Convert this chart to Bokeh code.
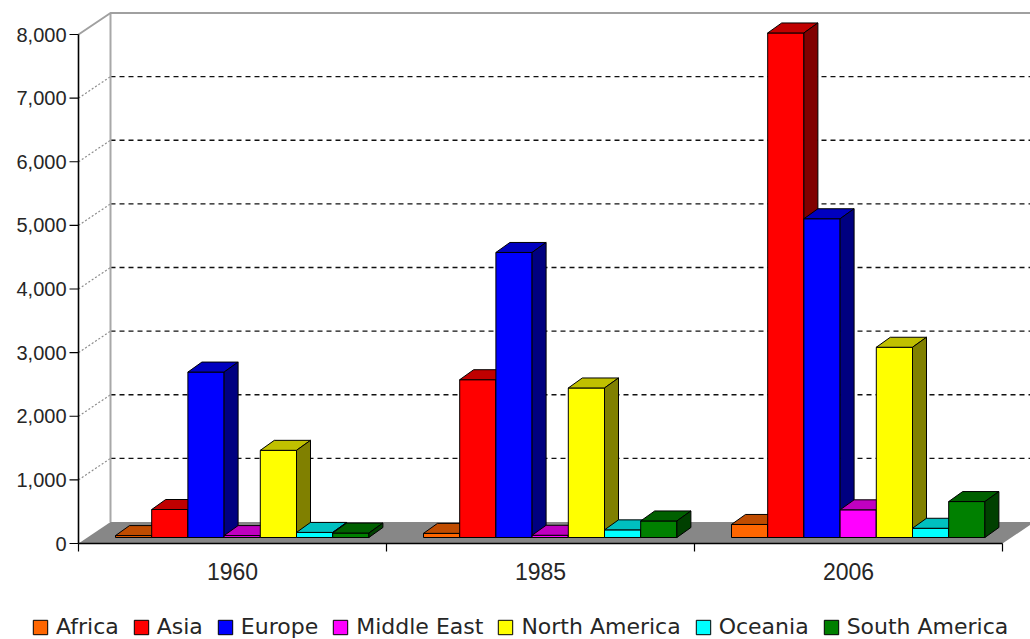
from bokeh.plotting import figure
from bokeh.models import Range1d, Legend, LegendItem
from bokeh.embed import file_html
from bokeh.resources import INLINE
from bokeh.core.properties import value

# ---------------- data ----------------
years = ["1960", "1985", "2006"]
series = ["Africa", "Asia", "Europe", "Middle East", "North America", "Oceania", "South America"]
africa = [30, 65, 205]
asia = [440, 2480, 7930]
europe = [2600, 4480, 5010]
middle_east = [30, 35, 435]
north_america = [1370, 2350, 2990]
oceania = [80, 120, 145]
south_america = [70, 260, 565]
y_ticks = [0, 1000, 2000, 3000, 4000, 5000, 6000, 7000, 8000]
y_tick_labels = [f"{t:,}" for t in y_ticks]

values = [africa, asia, europe, middle_east, north_america, oceania, south_america]
front_colors = ["#FF6600", "#FF0000", "#0000FF", "#FF00FF", "#FFFF00", "#00FFFF", "#008000"]
top_colors = ["#C04C00", "#C00000", "#0000C0", "#C000C0", "#C0C000", "#00C0C0", "#006000"]
side_colors = ["#803300", "#800000", "#000080", "#800080", "#808000", "#008080", "#004000"]

# ---------------- geometry (pixels) ----------------
W, H = 1030, 639
LEFT = 78          # y axis position
Y0 = 543           # pixel row of value 0
PX_PER_K = 63.625  # pixels per 1000 units
GROUP_PX = 308     # pixel width of one category

ux = 1.0 / GROUP_PX
uy = 1000.0 / PX_PER_K

WALL_DX, WALL_DY = 32 * ux, 21.5 * uy     # back wall offset
BAR_OFF_X, BAR_BASE = 37 * ux, 6 * uy     # first bar offset / bar base lift
BAR_W = 36.2 * ux
DEP_X, DEP_Y = 14 * ux, 10 * uy           # bar depth

xmin, xmax = -LEFT * ux, (W - LEFT) * ux
p = figure(width=W, height=H,
           x_range=Range1d(xmin, xmax), y_range=Range1d(-(H - Y0) * uy, Y0 * uy),
           output_backend="svg", toolbar_location=None,
           x_axis_location=None, y_axis_location=None,
           min_border_left=0, min_border_right=0, min_border_top=0, min_border_bottom=0)
p.outline_line_color = None
p.background_fill_color = "white"
p.border_fill_color = "white"
p.xgrid.visible = False
p.ygrid.visible = False

ncat = len(years)
top_v = y_ticks[-1]
TXT = "#262626"

# floor
p.patch([0, ncat, ncat + WALL_DX, WALL_DX], [0, 0, WALL_DY, WALL_DY],
        fill_color="#878787", line_color=None)

# back-wall grid lines and connectors
for t in y_ticks[1:-1]:
    p.line([WALL_DX, xmax + 1], [t + WALL_DY, t + WALL_DY], line_color="#111111",
           line_width=1.3, line_dash="5 4")
    p.line([0, WALL_DX], [t, t + WALL_DY], line_color="#8c8c8c", line_width=1.2, line_dash="2 2")

# back wall outline
p.line([WALL_DX, WALL_DX], [WALL_DY, top_v + WALL_DY], line_color="#a8a8a8", line_width=2)
p.line([0, WALL_DX, xmax + 1], [top_v, top_v + WALL_DY, top_v + WALL_DY], line_color="#a0a0a0", line_width=2)

# bars (front face first in each group)
legend_items = []
for s, (name, vals) in enumerate(zip(series, values)):
    xs, ys, fc = [], [], []
    for g, v in enumerate(vals):
        xl = g + BAR_OFF_X + s * BAR_W
        xr = xl + BAR_W
        yb = BAR_BASE
        yt = yb + v
        xs.append([xl, xr, xr, xl]); ys.append([yb, yb, yt, yt]); fc.append(front_colors[s])
        xs.append([xl, xr, xr + DEP_X, xl + DEP_X]); ys.append([yt, yt, yt + DEP_Y, yt + DEP_Y]); fc.append(top_colors[s])
        xs.append([xr, xr + DEP_X, xr + DEP_X, xr]); ys.append([yb, yb + DEP_Y, yt + DEP_Y, yt]); fc.append(side_colors[s])
    r = p.patches(xs, ys, fill_color=fc, line_color="black", line_width=1)
    legend_items.append(LegendItem(label=name, renderers=[r], index=0))

# x axis (front edge of floor)
p.line([0, ncat], [0, 0], line_color="black", line_width=1.6)
for g in range(ncat + 1):
    p.line([g, g], [0, -8 * uy], line_color="black", line_width=1.2)
p.text(x=[g + 0.5 for g in range(ncat)], y=[-(571 - Y0) * uy] * ncat, text=years,
       text_font=value("Liberation Sans"), text_font_size="23px", text_align="center",
       text_baseline="middle", text_color=TXT)

# y axis
p.line([0, 0], [0, top_v], line_color="black", line_width=1.6)
p.segment(x0=[-9 * ux] * len(y_ticks), y0=y_ticks, x1=[0] * len(y_ticks), y1=y_ticks,
          line_color="black", line_width=1.2)
p.text(x=[-12 * ux] * len(y_ticks), y=y_ticks, text=y_tick_labels,
       text_font=value("Liberation Sans"), text_font_size="20px", text_align="right",
       text_baseline="middle", text_color=TXT)

# legend
legend = Legend(items=legend_items, orientation="horizontal", location=(31, 0),
                label_text_font="DejaVu Sans", label_text_font_size="22px", label_text_color=TXT,
                glyph_width=18, glyph_height=18, label_standoff=7, spacing=13,
                padding=0, margin=0, background_fill_alpha=0, border_line_color=None)
p.add_layout(legend)

open("out.html", "w").write(file_html(p, INLINE))
